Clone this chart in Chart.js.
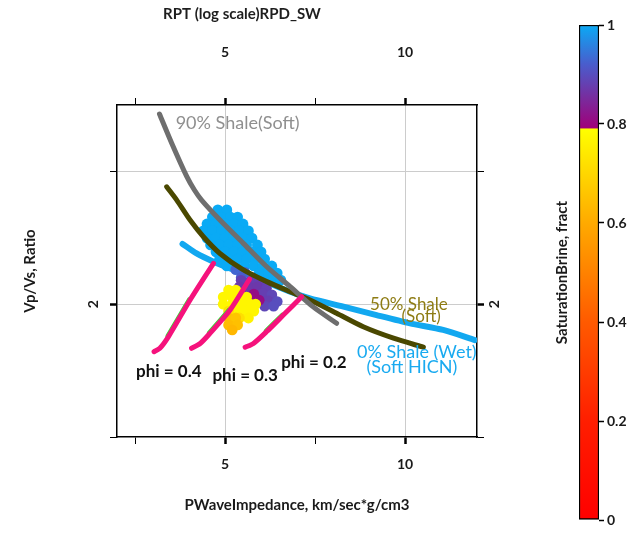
<!DOCTYPE html>
<html>
<head>
<meta charset="utf-8">
<title>RPT (log scale)RPD_SW</title>
<script src="https://cdn.jsdelivr.net/npm/chart.js@4.4.1/dist/chart.umd.min.js"></script>
<style>
  body { margin: 0; background: #fff; }
  #wrap { position: relative; width: 639px; height: 542px; }
  #main { position: absolute; left: 0; top: 0; }
  #bar { position: absolute; left: 540px; top: 0; }
</style>
</head>
<body>
<div id="wrap">
  <canvas id="main" width="540" height="542"></canvas>
  <canvas id="bar" width="99" height="542"></canvas>
</div>
<script>
// ---- axes ----
const chartTitle = "RPT (log scale)RPD_SW";
const xTitle = "PWaveImpedance, km/sec*g/cm3";
const yTitle = "Vp/Vs, Ratio";
const xTicks = [2.5, 5, 7.5, 10];
const xTickLabels = ["", "5", "", "10"];
const yTicks = [1.5, 2, 2.5];
const yTickLabels = ["", "2", ""];

// ---- template curves ----
const shale90X = [3.18, 3.52, 3.94, 4.15, 4.35, 4.86, 5.51, 6.16, 6.81, 7.45, 8.10];
const shale90Y = [2.716, 2.606, 2.480, 2.430, 2.392, 2.317, 2.229, 2.141, 2.066, 1.990, 1.928];

const shale50X = [3.38, 3.66, 4.03, 4.40, 4.86, 5.51, 6.16, 6.81, 7.36, 8.10, 8.84, 9.68, 10.51];
const shale50Y = [2.442, 2.392, 2.317, 2.254, 2.191, 2.129, 2.085, 2.047, 2.016, 1.966, 1.915, 1.872, 1.838];

const shale0X = [3.82, 4.21, 4.68, 5.14, 5.69, 6.25, 6.81, 7.36, 8.29, 9.21, 10.14, 11.06, 11.94];
const shale0Y = [2.227, 2.191, 2.160, 2.135, 2.110, 2.078, 2.047, 2.022, 1.991, 1.959, 1.928, 1.903, 1.865];

const phi04X = [3.03, 3.19, 3.43, 4.03, 4.68];
const phi04Y = [1.821, 1.834, 1.878, 2.016, 2.154];
const phi03X = [4.07, 4.31, 4.58, 5.14, 5.68];
const phi03Y = [1.834, 1.852, 1.890, 1.978, 2.094];
const phi02X = [5.56, 5.79, 6.16, 6.62, 7.13];
const phi02Y = [1.838, 1.852, 1.897, 1.959, 2.028];

// thin green companions of the porosity lines
const dry04X = [3.40, 4.00];
const dry04Y = [1.880, 2.018];
const dry03X = [4.55, 5.11];
const dry03Y = [1.892, 1.980];
const dry02X = [6.13, 6.59];
const dry02Y = [1.899, 1.961];

// ---- sample cloud coloured by brine saturation ----
const cloudX = [
  4.8, 5.05,
  4.65, 4.9, 5.15, 5.35,
  4.5, 4.75, 5.0, 5.25, 5.5,
  4.4, 4.65, 4.9, 5.15, 5.4, 5.65,
  4.5, 4.75, 5.0, 5.25, 5.5, 5.75,
  4.6, 4.85, 5.1, 5.35, 5.6, 5.9,
  4.75, 5.0, 5.25, 5.5, 5.75, 6.0,
  4.85, 5.1, 5.35, 5.6, 5.85, 6.1,
  5.05, 5.3, 5.55, 5.8, 6.05, 6.3,
  5.95, 6.2, 6.45,
  6.1, 6.35, 6.55,
  5.3, 5.55, 5.75, 5.45,
  5.45, 5.7, 5.95, 5.4, 5.65, 5.9, 6.15, 5.55, 6.05, 6.3, 5.7, 6.2, 6.45, 6.1, 6.35,
  5.8, 5.95,
  5.1, 5.3, 4.95, 5.2, 5.45, 5.6, 4.95, 5.2, 5.45, 5.7, 5.85, 5.35, 5.6, 5.8, 5.65,
  5.1, 5.4,
  5.1, 5.3, 5.1, 5.35, 5.2
];
const cloudY = [
  2.355, 2.355,
  2.328, 2.328, 2.328, 2.328,
  2.302, 2.302, 2.302, 2.302, 2.302,
  2.276, 2.276, 2.276, 2.276, 2.276, 2.276,
  2.249, 2.249, 2.249, 2.249, 2.249, 2.249,
  2.223, 2.223, 2.223, 2.223, 2.223, 2.223,
  2.197, 2.197, 2.197, 2.197, 2.197, 2.197,
  2.170, 2.170, 2.170, 2.170, 2.170, 2.170,
  2.144, 2.144, 2.144, 2.144, 2.144, 2.144,
  2.117, 2.117, 2.117,
  2.091, 2.091, 2.091,
  2.130, 2.120, 2.100, 2.100,
  2.090, 2.085, 2.080, 2.065, 2.065, 2.065, 2.060, 2.040, 2.040, 2.035, 2.012, 2.012, 2.010, 1.993, 1.993,
  2.038, 2.015,
  2.053, 2.053, 2.027, 2.027, 2.027, 2.027, 2.000, 2.000, 2.000, 2.000, 2.000, 1.974, 1.974, 1.974, 1.948,
  1.974, 1.948,
  1.948, 1.948, 1.922, 1.922, 1.903
];
const cloudSw = [
  1, 1,
  1, 1, 1, 1,
  1, 1, 1, 1, 1,
  1, 1, 1, 1, 1, 1,
  1, 1, 1, 1, 1, 1,
  1, 1, 1, 1, 1, 1,
  1, 1, 1, 1, 1, 1,
  1, 1, 1, 1, 1, 1,
  1, 1, 1, 1, 1, 1,
  1, 1, 1,
  1, 1, 1,
  0.93, 0.93, 0.93, 0.92,
  0.88, 0.88, 0.88, 0.87, 0.87, 0.87, 0.88, 0.87, 0.88, 0.89, 0.87, 0.88, 0.9, 0.89, 0.9,
  0.81, 0.81,
  0.77, 0.77, 0.77, 0.77, 0.77, 0.77, 0.77, 0.77, 0.77, 0.77, 0.77, 0.77, 0.77, 0.77, 0.76,
  0.72, 0.72,
  0.65, 0.66, 0.64, 0.65, 0.63
];

// ---- colour bar ----
const cbTitle = "SaturationBrine, fract";
const cbTickLabels = ["0", "0.2", "0.4", "0.6", "0.8", "1"];
const cbStops = [0, 0.2, 0.4, 0.6, 0.79, 0.792, 0.85, 0.92, 1];
const cbColors = ["#ff0000", "#ff1e00", "#ff5a00", "#ffaa00", "#ffff00", "#a0007a", "#7a2a9c", "#4a5ccc", "#0aaaf5"];

Chart.defaults.font.family = 'Lato, "Open Sans", sans-serif';
Chart.defaults.color = "#1a1a1a";

function hexToRgb(h) {
  return [parseInt(h.slice(1, 3), 16), parseInt(h.slice(3, 5), 16), parseInt(h.slice(5, 7), 16)];
}
function swColor(v) {
  for (let i = 1; i < cbStops.length; i++) {
    if (v <= cbStops[i]) {
      const t = (v - cbStops[i - 1]) / (cbStops[i] - cbStops[i - 1]);
      const a = hexToRgb(cbColors[i - 1]), b = hexToRgb(cbColors[i]);
      const c = a.map((k, j) => Math.round(k + (b[j] - k) * t));
      return `rgb(${c[0]},${c[1]},${c[2]})`;
    }
  }
  return cbColors[cbColors.length - 1];
}
const pts = (xs, ys) => xs.map((x, i) => ({ x: x, y: ys[i] }));

// labels written on the plot (data coordinates)
const notes = [
  { text: "90% Shale(Soft)", x: 5.35, y: 2.682, color: "#8f8f8f", font: "18px Lato" },
  { text: "50% Shale", x: 10.11, y: 2.0, color: "#8e7c14", font: "17px Lato" },
  { text: "(Soft)", x: 10.45, y: 1.952, color: "#8e7c14", font: "17px Lato" },
  { text: "0% Shale (Wet)", x: 10.33, y: 1.82, color: "#19aaf0", font: "18px Lato" },
  { text: "(Soft HICN)", x: 10.19, y: 1.764, color: "#19aaf0", font: "18px Lato" },
  { text: "phi = 0.4", x: 3.44, y: 1.745, color: "#111", font: "bold 17px Lato" },
  { text: "phi = 0.3", x: 5.56, y: 1.733, color: "#111", font: "bold 17px Lato" },
  { text: "phi = 0.2", x: 7.47, y: 1.782, color: "#111", font: "bold 17px Lato" }
];

const notesPlugin = {
  id: "notes",
  afterDatasetsDraw(chart) {
    const c = chart.ctx, sx = chart.scales.x, sy = chart.scales.y;
    c.save();
    c.textAlign = "center";
    c.textBaseline = "middle";
    notes.forEach(n => {
      c.font = n.font;
      c.fillStyle = n.color;
      c.fillText(n.text, sx.getPixelForValue(n.x), sy.getPixelForValue(n.y));
    });
    c.restore();
  }
};

const titlePlugin = {
  id: "rptTitle",
  afterDraw(chart) {
    const c = chart.ctx;
    c.save();
    c.font = "bold 15px Lato";
    c.fillStyle = "#1e1e1e";
    c.textAlign = "center";
    c.textBaseline = "middle";
    c.fillText(chartTitle, 242, 14);
    c.restore();
  }
};

function lineSet(xs, ys, color, width, order) {
  return {
    data: pts(xs, ys), showLine: true, borderColor: color, borderWidth: width,
    pointRadius: 0, tension: 0.25, borderCapStyle: "round", borderJoinStyle: "round", order: order
  };
}

function gridColor(labels) {
  return ctx => (ctx.tick && labels[ctx.index] ? "#cccccc" : "rgba(0,0,0,0)");
}
function tickWidth(labels) {
  return ctx => (labels[ctx.index] ? 2.5 : 1);
}

new Chart(document.getElementById("main"), {
  type: "scatter",
  data: {
    datasets: [
      lineSet(phi04X, phi04Y, "#f5127c", 5, 1),
      lineSet(phi03X, phi03Y, "#f5127c", 5, 1),
      lineSet(phi02X, phi02Y, "#f5127c", 5, 1),
      lineSet(dry04X, dry04Y, "#33dd33", 4, 2),
      lineSet(dry03X, dry03Y, "#33dd33", 4, 2),
      lineSet(dry02X, dry02Y, "#33dd33", 4, 2),
      lineSet(shale90X, shale90Y, "#6e6e6e", 5, 3),
      lineSet(shale50X, shale50Y, "#4a4800", 5, 4),
      {
        data: pts(cloudX, cloudY), pointRadius: 5.4, pointBorderWidth: 0,
        pointBackgroundColor: ctx => swColor(cloudSw[ctx.dataIndex]),
        pointBorderColor: "rgba(0,0,0,0)", order: 5
      },
      lineSet(shale0X, shale0Y, "#12a8f0", 6, 6)
    ]
  },
  options: {
    responsive: false,
    animation: false,
    events: [],
    layout: { padding: 0 },
    plugins: { legend: { display: false }, tooltip: { enabled: false }, title: { display: false } },
    scales: {
      x: {
        type: "linear", position: "bottom", min: 2, max: 12,
        afterBuildTicks: s => { s.ticks = xTicks.map(v => ({ value: v })); },
        afterFit: s => { s.height = 105; },
        ticks: { callback: (v, i) => xTickLabels[i], font: { size: 14, weight: "bold" }, padding: 12, maxRotation: 0, autoSkip: false },
        grid: { color: gridColor(xTickLabels), tickColor: "#000", tickWidth: tickWidth(xTickLabels), tickLength: 7 },
        border: { color: "#000", width: 1.5 },
        title: { display: true, text: xTitle, font: { size: 15, weight: "bold" }, padding: { top: 0, bottom: 28 } }
      },
      x2: {
        type: "linear", position: "top", min: 2, max: 12,
        afterBuildTicks: s => { s.ticks = xTicks.map(v => ({ value: v })); },
        afterFit: s => { s.height = 105; },
        ticks: { callback: (v, i) => xTickLabels[i], font: { size: 14, weight: "bold" }, padding: 37, maxRotation: 0, autoSkip: false },
        grid: { drawOnChartArea: false, tickColor: "#000", tickWidth: tickWidth(xTickLabels), tickLength: 7 },
        border: { color: "#000", width: 1.5 }
      },
      y: {
        type: "linear", position: "left", min: 1.5, max: 2.75,
        afterBuildTicks: s => { s.ticks = yTicks.map(v => ({ value: v })); },
        afterFit: s => { s.width = 117; },
        ticks: { callback: (v, i) => yTickLabels[i], font: { size: 14, weight: "bold" }, padding: 12, minRotation: 90, maxRotation: 90, crossAlign: "center", autoSkip: false },
        grid: { color: gridColor(["", "2", "2.5"]), tickColor: "#000", tickWidth: tickWidth(yTickLabels), tickLength: 7 },
        border: { color: "#000", width: 1.5 },
        title: { display: true, text: yTitle, font: { size: 15, weight: "bold" }, padding: { top: 21, bottom: 0 } }
      },
      y2: {
        type: "linear", position: "right", min: 1.5, max: 2.75,
        afterBuildTicks: s => { s.ticks = yTicks.map(v => ({ value: v })); },
        afterFit: s => { s.width = 63; },
        ticks: { callback: (v, i) => yTickLabels[i], font: { size: 14, weight: "bold" }, padding: 6, minRotation: 90, maxRotation: 90, crossAlign: "center", autoSkip: false },
        grid: { drawOnChartArea: false, tickColor: "#000", tickWidth: tickWidth(yTickLabels), tickLength: 7 },
        border: { color: "#000", width: 1.5 }
      }
    }
  },
  plugins: [notesPlugin, titlePlugin]
});

// colour bar
function barGradient(ctx) {
  const area = ctx.chart.chartArea;
  if (!area) return cbColors[0];
  const ys = ctx.chart.scales.y;
  const g = ctx.chart.ctx.createLinearGradient(0, ys.getPixelForValue(0), 0, ys.getPixelForValue(1));
  cbStops.forEach((s, i) => g.addColorStop(s, cbColors[i]));
  return g;
}

new Chart(document.getElementById("bar"), {
  type: "bar",
  data: {
    labels: [""],
    datasets: [{
      data: [1], backgroundColor: barGradient, borderColor: "#000", borderWidth: 1.5,
      borderSkipped: false, barPercentage: 1, categoryPercentage: 1
    }]
  },
  options: {
    responsive: false,
    animation: false,
    events: [],
    layout: { padding: { top: 25, bottom: 22 } },
    plugins: { legend: { display: false }, tooltip: { enabled: false } },
    scales: {
      x: { display: false },
      y: {
        position: "right", min: 0, max: 1,
        afterBuildTicks: s => { s.ticks = cbTickLabels.map((t, i) => ({ value: i * 0.2 })); },
        afterFit: s => { s.width = 40; },
        ticks: { callback: (v, i) => cbTickLabels[i], font: { size: 14, weight: "bold" }, padding: 3 },
        grid: { drawOnChartArea: false, tickColor: "#000", tickLength: 5, tickWidth: 1.5 },
        border: { display: false }
      },
      yt: {
        position: "left", min: 0, max: 1,
        afterFit: s => { s.width = 39; },
        ticks: { display: false },
        grid: { display: false },
        border: { display: false },
        title: { display: true, text: cbTitle, font: { size: 15, weight: "bold" }, padding: { top: 13, bottom: 0 } }
      }
    }
  }
});
</script>
</body>
</html>
